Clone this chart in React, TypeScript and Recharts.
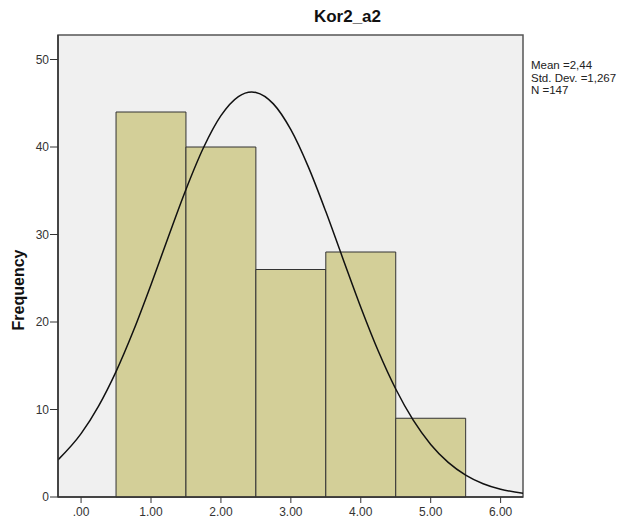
import React from 'react';
import { ComposedChart, Line, XAxis, YAxis, ReferenceArea } from 'recharts';

const binStarts = [0.5, 1.5, 2.5, 3.5, 4.5];
const binEnds = [1.5, 2.5, 3.5, 4.5, 5.5];
const binCounts = [44, 40, 26, 28, 9];

const curveX = [-0.33, 0, 0.25, 0.5, 0.75, 1, 1.25, 1.5, 1.75, 2, 2.25, 2.44, 2.5, 2.75, 3, 3.25, 3.5, 3.75, 4, 4.25, 4.5, 4.75, 5, 5.25, 5.5, 5.75, 6, 6.32];
const curveY = [4.24, 7.24, 10.39, 14.33, 19.02, 24.26, 29.78, 35.15, 39.91, 43.58, 45.77, 46.29, 46.24, 44.93, 41.98, 37.73, 32.62, 27.12, 21.69, 16.68, 12.34, 8.78, 6.01, 3.96, 2.51, 1.52, 0.89, 0.43];

const xTicks = [0, 1, 2, 3, 4, 5, 6];
const xTickLabels = ['.00', '1.00', '2.00', '3.00', '4.00', '5.00', '6.00'];
const yTicks = [0, 10, 20, 30, 40, 50];

const xDomain: [number, number] = [-0.33, 6.32];
const yDomain: [number, number] = [0, 52.8];

const title = 'Kor2_a2';
const yLabel = 'Frequency';
const statsLines = ['Mean =2,44', 'Std. Dev. =1,267', 'N =147'];

const curveData = curveX.map((x, i) => ({ x, y: curveY[i] }));

const font = '"Liberation Sans", Arial, sans-serif';

export default function App() {
  return (
    <div style={{ position: 'absolute', left: 0, top: 0, width: 625, height: 518, background: '#fff', fontFamily: font }}>
      <div style={{ position: 'absolute', left: 0, top: 7, width: 695, textAlign: 'center', fontWeight: 'bold', fontSize: 17, color: '#111' }}>
        {title}
      </div>
      <div style={{ position: 'absolute', left: 531, top: 59, fontSize: 11.5, lineHeight: '12.5px', color: '#222' }}>
        {statsLines.map((s) => (
          <div key={s}>{s}</div>
        ))}
      </div>
      <ComposedChart
        width={625}
        height={518}
        data={curveData}
        margin={{ top: 35, right: 102, bottom: 0, left: 0 }}
      >
        <XAxis
          dataKey="x"
          type="number"
          domain={xDomain}
          ticks={xTicks}
          tickFormatter={(v: number) => xTickLabels[xTicks.indexOf(v)] ?? ''}
          allowDataOverflow
          height={21}
          axisLine={{ stroke: '#333', strokeWidth: 1.5 }}
          tickLine={{ stroke: '#333' }}
          tickSize={6}
          tickMargin={4}
          tick={{ fill: '#333', fontSize: 12, fontFamily: font }}
        />
        <YAxis
          type="number"
          domain={yDomain}
          ticks={yTicks}
          allowDataOverflow
          width={58}
          axisLine={{ stroke: '#333', strokeWidth: 1.5 }}
          tickLine={{ stroke: '#333' }}
          tickSize={8}
          tickMargin={1}
          tick={{ fill: '#333', fontSize: 12, fontFamily: font }}
          label={{
            content: () => (
              <text
                x={24}
                y={290}
                transform="rotate(-90 24 290)"
                textAnchor="middle"
                fontWeight="bold"
                fontSize={16}
                fontFamily={font}
                fill="#111"
              >
                {yLabel}
              </text>
            ),
          }}
        />
        <ReferenceArea
          x1={xDomain[0]}
          x2={xDomain[1]}
          y1={yDomain[0]}
          y2={yDomain[1]}
          fill="#f0f0f0"
          fillOpacity={1}
          stroke="#555"
          strokeWidth={1.5}
        />
        {binCounts.map((c, i) => (
          <ReferenceArea
            key={i}
            x1={binStarts[i]}
            x2={binEnds[i]}
            y1={0}
            y2={c}
            fill="#d3cf98"
            fillOpacity={1}
            stroke="#333"
            strokeWidth={1}
          />
        ))}
        <Line
          dataKey="y"
          type="monotone"
          stroke="#111"
          strokeWidth={1.5}
          dot={false}
          activeDot={false}
          isAnimationActive={false}
        />
      </ComposedChart>
    </div>
  );
}
